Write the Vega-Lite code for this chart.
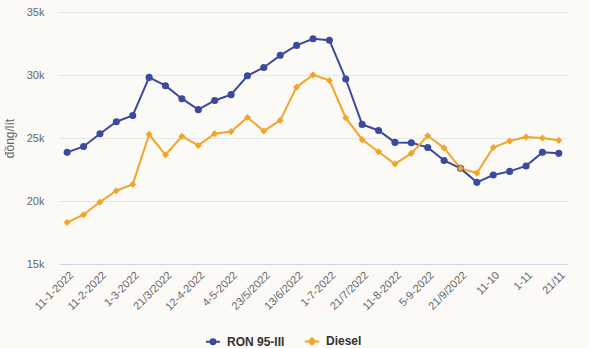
{
  "$schema": "https://vega.github.io/schema/vega-lite/v6.json",
  "width": 508,
  "height": 252,
  "autosize": {"type": "none"},
  "padding": {"left": 59, "top": 12, "right": 22, "bottom": 84},
  "background": "#fbfaf7",
  "config": {
    "view": {"stroke": null},
    "font": "Liberation Sans"
  },
  "data": {
    "values": [
      {"d": "11-1-2022", "s": "RON 95-III", "v": 23860},
      {"d": "21-1-2022", "s": "RON 95-III", "v": 24330},
      {"d": "11-2-2022", "s": "RON 95-III", "v": 25340},
      {"d": "21/2/2022", "s": "RON 95-III", "v": 26290},
      {"d": "1-3-2022", "s": "RON 95-III", "v": 26790},
      {"d": "11-3-2022", "s": "RON 95-III", "v": 29810},
      {"d": "21/3/2022", "s": "RON 95-III", "v": 29150},
      {"d": "1-4-2022", "s": "RON 95-III", "v": 28120},
      {"d": "12-4-2022", "s": "RON 95-III", "v": 27250},
      {"d": "25/4/2022", "s": "RON 95-III", "v": 27980},
      {"d": "4-5-2022", "s": "RON 95-III", "v": 28440},
      {"d": "11-5-2022", "s": "RON 95-III", "v": 29940},
      {"d": "23/5/2022", "s": "RON 95-III", "v": 30600},
      {"d": "1-6-2022", "s": "RON 95-III", "v": 31560},
      {"d": "13/6/2022", "s": "RON 95-III", "v": 32350},
      {"d": "21/6/2022", "s": "RON 95-III", "v": 32870},
      {"d": "1-7-2022", "s": "RON 95-III", "v": 32760},
      {"d": "11-7-2022", "s": "RON 95-III", "v": 29680},
      {"d": "21/7/2022", "s": "RON 95-III", "v": 26080},
      {"d": "1-8-2022", "s": "RON 95-III", "v": 25600},
      {"d": "11-8-2022", "s": "RON 95-III", "v": 24650},
      {"d": "22/8/2022", "s": "RON 95-III", "v": 24630},
      {"d": "5-9-2022", "s": "RON 95-III", "v": 24250},
      {"d": "12-9-2022", "s": "RON 95-III", "v": 23220},
      {"d": "21/9/2022", "s": "RON 95-III", "v": 22590},
      {"d": "3-10", "s": "RON 95-III", "v": 21480},
      {"d": "11-10", "s": "RON 95-III", "v": 22060},
      {"d": "21/10", "s": "RON 95-III", "v": 22350},
      {"d": "1-11", "s": "RON 95-III", "v": 22780},
      {"d": "11-11", "s": "RON 95-III", "v": 23860},
      {"d": "21/11", "s": "RON 95-III", "v": 23780},
      {"d": "11-1-2022", "s": "Diesel", "v": 18300},
      {"d": "21-1-2022", "s": "Diesel", "v": 18910},
      {"d": "11-2-2022", "s": "Diesel", "v": 19920},
      {"d": "21/2/2022", "s": "Diesel", "v": 20820},
      {"d": "1-3-2022", "s": "Diesel", "v": 21320},
      {"d": "11-3-2022", "s": "Diesel", "v": 25290},
      {"d": "21/3/2022", "s": "Diesel", "v": 23650},
      {"d": "1-4-2022", "s": "Diesel", "v": 25130},
      {"d": "12-4-2022", "s": "Diesel", "v": 24410},
      {"d": "25/4/2022", "s": "Diesel", "v": 25340},
      {"d": "4-5-2022", "s": "Diesel", "v": 25520},
      {"d": "11-5-2022", "s": "Diesel", "v": 26630},
      {"d": "23/5/2022", "s": "Diesel", "v": 25560},
      {"d": "1-6-2022", "s": "Diesel", "v": 26400},
      {"d": "13/6/2022", "s": "Diesel", "v": 29050},
      {"d": "21/6/2022", "s": "Diesel", "v": 30010},
      {"d": "1-7-2022", "s": "Diesel", "v": 29570},
      {"d": "11-7-2022", "s": "Diesel", "v": 26590},
      {"d": "21/7/2022", "s": "Diesel", "v": 24870},
      {"d": "1-8-2022", "s": "Diesel", "v": 23910},
      {"d": "11-8-2022", "s": "Diesel", "v": 22940},
      {"d": "22/8/2022", "s": "Diesel", "v": 23780},
      {"d": "5-9-2022", "s": "Diesel", "v": 25180},
      {"d": "12-9-2022", "s": "Diesel", "v": 24210},
      {"d": "21/9/2022", "s": "Diesel", "v": 22590},
      {"d": "3-10", "s": "Diesel", "v": 22220},
      {"d": "11-10", "s": "Diesel", "v": 24250},
      {"d": "21/10", "s": "Diesel", "v": 24760},
      {"d": "1-11", "s": "Diesel", "v": 25080},
      {"d": "11-11", "s": "Diesel", "v": 25000},
      {"d": "21/11", "s": "Diesel", "v": 24810}
    ]
  },
  "encoding": {
    "x": {
      "field": "d",
      "type": "ordinal",
      "sort": null,
      "scale": {"type": "point", "padding": 0.5},
      "axis": {
        "title": null,
        "values": ["11-1-2022", "11-2-2022", "1-3-2022", "21/3/2022", "12-4-2022", "4-5-2022", "23/5/2022", "13/6/2022", "1-7-2022", "21/7/2022", "11-8-2022", "5-9-2022", "21/9/2022", "11-10", "1-11", "21/11"],
        "labelAngle": -45,
        "labelFontSize": 11,
        "labelColor": "#666666",
        "labelPadding": 5,
        "ticks": false,
        "domain": true,
        "domainColor": "#ccd6eb",
        "domainWidth": 1,
        "grid": false
      }
    },
    "y": {
      "field": "v",
      "type": "quantitative",
      "scale": {"domain": [15000, 35000], "nice": false, "zero": false},
      "axis": {
        "title": "đồng/lít",
        "titleFontSize": 12,
        "titleFontWeight": "normal",
        "titleColor": "#666666",
        "titlePadding": 10,
        "values": [15000, 20000, 25000, 30000, 35000],
        "labelExpr": "datum.value / 1000 + 'k'",
        "labelFontSize": 11,
        "labelColor": "#666666",
        "labelPadding": 15,
        "ticks": false,
        "domain": false,
        "grid": true,
        "gridColor": "#e6e6e6",
        "gridWidth": 1
      }
    },
    "color": {
      "field": "s",
      "type": "nominal",
      "sort": ["RON 95-III", "Diesel"],
      "scale": {"domain": ["RON 95-III", "Diesel"], "range": ["#3b4a9c", "#f2a52b"]},
      "legend": {
        "title": null,
        "orient": "none",
        "direction": "horizontal",
        "legendX": 146,
        "legendY": 321,
        "labelFontSize": 12,
        "labelFontWeight": "bold",
        "labelColor": "#333333",
        "symbolSize": 196,
        "symbolStrokeWidth": 2,
        "columnPadding": 16,
        "labelOffset": 6,
        "encode": {
          "symbols": {
            "update": {
              "shape": {"signal": "datum.value === 'RON 95-III' ? 'M-1,0L1,0M0.35,0A0.35,0.35,0,1,1,-0.35,0A0.35,0.35,0,1,1,0.35,0Z' : 'M-1,0L1,0M0,-0.45L0.45,0L0,0.45L-0.45,0Z'"},
              "stroke": {"signal": "datum.value === 'RON 95-III' ? '#3b4a9c' : '#f2a52b'"},
              "fill": {"signal": "datum.value === 'RON 95-III' ? '#3b4a9c' : '#f2a52b'"},
              "opacity": {"value": 1}
            }
          }
        }
      }
    }
  },
  "layer": [
    {
      "mark": {"type": "line", "strokeWidth": 2}
    },
    {
      "transform": [{"filter": "datum.s === 'RON 95-III'"}],
      "mark": {"type": "point", "filled": true, "opacity": 1, "size": 50, "shape": "circle"}
    },
    {
      "transform": [{"filter": "datum.s === 'Diesel'"}],
      "mark": {"type": "point", "filled": true, "opacity": 1, "size": 50, "shape": "diamond"}
    }
  ]
}
